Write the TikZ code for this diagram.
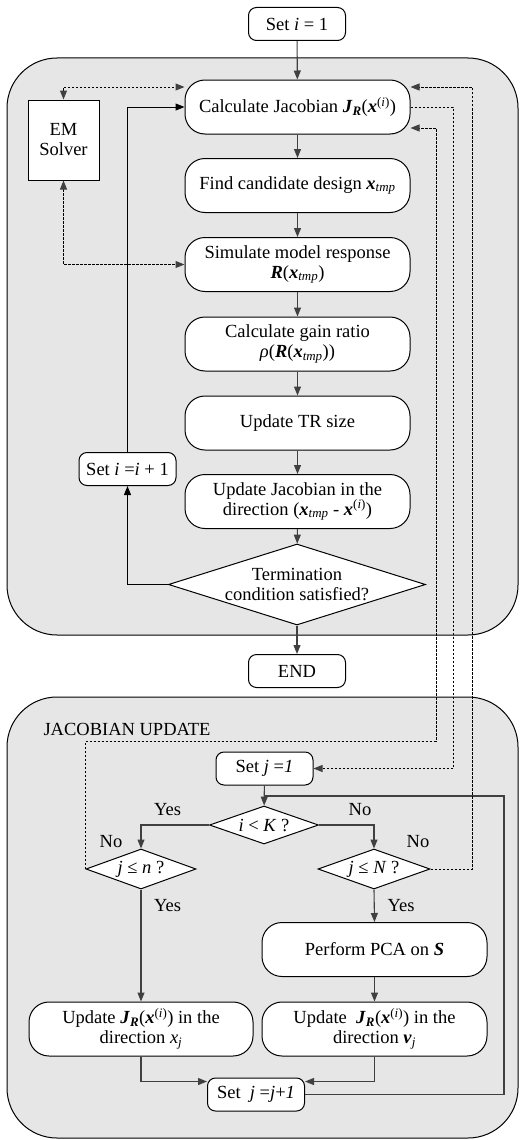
\documentclass[tikz,border=0pt]{standalone}
\usepackage{fontspec}
\setmainfont{Liberation Serif}
\usetikzlibrary{shapes.geometric, arrows.meta, positioning, calc}
\definecolor{flowgray}{RGB}{64, 64, 64}
\definecolor{panelgray}{RGB}{230, 230, 230}
\newcommand{\bvec}[1]{\textbf{\textit{#1}}}
\newcommand{\jacR}{\bvec{J}\textsubscript{\bvec{R}}(\bvec{x}\textsuperscript{(\textit{i})})}
\newcommand{\xtmp}{\bvec{x}\textsubscript{\textit{tmp}}}

\begin{document}
\begin{tikzpicture}[
    x=1pt, y=-1pt,
    font=\fontsize{18.5}{20}\selectfont,
    >={Triangle[length=9pt,width=7pt]},
    panel/.style={draw=black, fill=panelgray, rounded corners=50pt, line width=1pt},
    process/.style={rectangle, rounded corners=20pt, draw=black, fill=white, line width=1pt, minimum width=225pt, minimum height=54pt, align=center, inner sep=2pt},
    smallbox/.style={rectangle, rounded corners=8pt, draw=black, fill=white, line width=1pt, minimum width=97pt, minimum height=33pt, inner sep=2pt},
    decision/.style={diamond, draw=black, fill=white, line width=1pt, inner sep=0pt, align=center},
    flow/.style={line width=1.1pt, draw=flowgray, ->},
    loopline/.style={line width=1pt, draw=black, ->},
    dotline/.style={line width=1pt, draw=black, dash pattern=on 2.5pt off 1.5pt},
    dottip/.style={{Triangle[length=9pt,width=7pt,color=flowgray]}-{Triangle[length=9pt,width=7pt,color=flowgray]}},
    dotend/.style={-{Triangle[length=9pt,width=7pt,color=flowgray]}}
]
\useasboundingbox (0,0) rectangle (520,1140);

% Panels
\draw [panel] (7,58) rectangle (518,635);
\draw [panel] (7,697) rectangle (518,1138);

% Main loop
\node (set_i) [smallbox] at (297,24) {Set \textit{i} = 1};
\node (calc_jac) [process] at (297.5,107) {Calculate Jacobian \jacR};
\node (find_cand) [process] at (297.5,185.5) {Find candidate design \xtmp};
\node (sim_resp) [process] at (297.5,264.5) {Simulate model response\\\bvec{R}(\xtmp)};
\node (gain_ratio) [process] at (297.5,344) {Calculate gain ratio\\\textit{ρ}(\bvec{R}(\xtmp))};
\node (update_tr) [process] at (297.5,423) {Update TR size};
\node (update_jac) [process] at (297.5,501.5) {Update Jacobian in the\\direction (\xtmp\ - \bvec{x}\textsuperscript{(\textit{i})})};
\node (term_cond) [decision, minimum width=257pt, minimum height=81pt, aspect=3.2] at (297,584.5) {Termination\\condition satisfied?};
\node (end_node) [smallbox] at (297,671) {END};
\node (em_solver) [rectangle, draw=black, fill=white, line width=1pt, minimum width=71pt, minimum height=80pt, align=center] at (63.5,140) {EM\\Solver};
\node (set_inc) [smallbox] at (127.5,469) {Set \textit{i} =\textit{i} + 1};

% Jacobian update
\node (jac_title) [anchor=west] at (40,729) {JACOBIAN UPDATE};
\node (set_j) [smallbox] at (264.5,768.5) {Set \textit{j} =\textit{1}};
\node (i_lt_k) [decision, minimum width=109pt, minimum height=38pt, aspect=2.9] at (264,825) {\textit{i} {\textless} \textit{K} ?};
\node (j_le_n) [decision, minimum width=110pt, minimum height=40pt, aspect=2.75] at (141,869) {\textit{j} ≤ \textit{n} ?};
\node (j_le_bign) [decision, minimum width=112pt, minimum height=40pt, aspect=2.8] at (374,869) {\textit{j} ≤ \textit{N} ?};
\node (pca) [process] at (374.5,949.5) {Perform PCA on \bvec{S}};
\node (upd_left) [process, minimum width=224pt] at (141,1029) {Update \jacR\ in the\\direction \textit{x}\textsubscript{\textit{j}}};
\node (upd_right) [process] at (374.5,1029) {Update \ \jacR\ in the\\direction \bvec{v}\textsubscript{\textit{j}}};
\node (set_jinc) [smallbox] at (256,1094.5) {Set \ \textit{j} =\textit{j}+\textit{1}};
\coordinate (merge) at (264,796);

% Labels
\node (yes_a) at (167.5,810) {Yes};
\node (no_a) at (111,842) {No};
\node (no_b) at (360,810) {No};
\node (no_c) at (418,842) {No};
\node (yes_b) at (167.5,906) {Yes};
\node (yes_c) at (401,906) {Yes};

% Arrows
\foreach \src/\dst in {set_i/calc_jac, calc_jac/find_cand, find_cand/sim_resp, sim_resp/gain_ratio, gain_ratio/update_tr, update_tr/update_jac, update_jac/term_cond, term_cond/end_node} {
    \draw [flow] (\src) -- (\dst);
}
\draw [loopline] (term_cond.west) -| (set_inc.south);
\draw [loopline] (set_inc.north) |- (calc_jac.west);

\draw [flow] (set_j) -- (i_lt_k);
\draw [flow, -] (set_jinc.east) -| (504,796) -- (merge);
\draw [flow] (i_lt_k.west) -| (j_le_n.north);
\draw [flow] (i_lt_k.east) -| (j_le_bign.north);
\draw [flow] (j_le_n.south) -- (upd_left.north);
\draw [flow] (j_le_bign.south) -- (pca.north);
\draw [flow] (pca) -- (upd_right);
\draw [flow] (upd_left.south) |- ([yshift=13pt]set_jinc.west);
\draw [flow] (upd_right.south) |- ([yshift=13pt]set_jinc.east);

% Dotted links
\draw [dotline, dottip] (em_solver.north) |- ([yshift=20pt]calc_jac.west);
\draw [dotline, dottip] (em_solver.south) |- (sim_resp.west);
\draw [dotline, dotend] (j_le_bign.east) -| (472,87) -- ([yshift=20pt]calc_jac.east);
\draw [dotline, dotend] (calc_jac.east) -| (453,740) |- (set_j.east);
\draw [dotline, dotend] (j_le_n.west) |- (436,741) |- ([yshift=-21pt]calc_jac.east);

\end{tikzpicture}
\end{document}
